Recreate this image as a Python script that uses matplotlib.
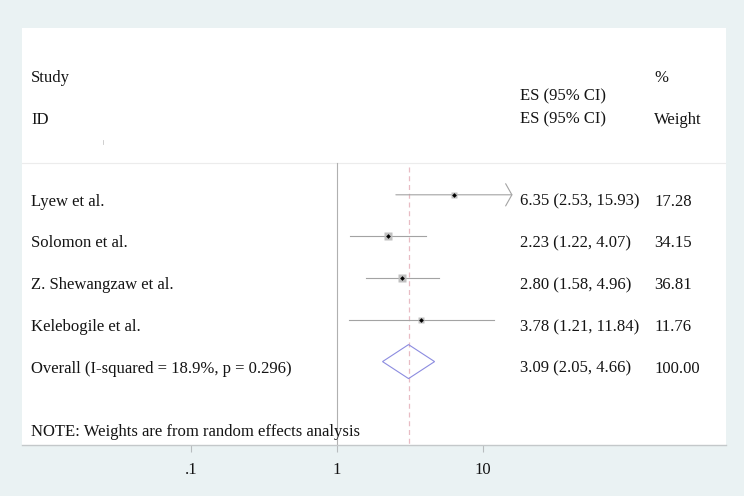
import matplotlib
matplotlib.use("Agg")
import matplotlib.pyplot as plt
import matplotlib.transforms as mtransforms
from matplotlib.patches import Polygon

# ---- data ----
studies = ["Lyew et al.", "Solomon et al.", "Z. Shewangzaw et al.", "Kelebogile et al."]
es = [6.35, 2.23, 2.80, 3.78]
ci_lo = [2.53, 1.22, 1.58, 1.21]
ci_hi = [15.93, 4.07, 4.96, 11.84]
weights = [17.28, 34.15, 36.81, 11.76]
overall_label = "Overall (I-squared = 18.9%, p = 0.296)"
overall_es = 3.09
overall_lo = 2.05
overall_hi = 4.66
overall_w = 100.00
xticks = [0.1, 1, 10]
xtick_labels = [".1", "1", "10"]
note = "NOTE: Weights are from random effects analysis"

# ---- style ----
plt.rcParams['font.family'] = ['Liberation Serif', 'DejaVu Serif']
FS = 12
TXT = '#141414'
BG = '#eaf2f3'

W, H = 744, 496
fig = plt.figure(figsize=(W / 100, H / 100), dpi=100, facecolor=BG)
# panel in pixels
pl, pr, pt, pb = 22, 726, 28, 445
ax = fig.add_axes([pl / W, (H - pb) / H, (pr - pl) / W, (pb - pt) / H])
ax.set_facecolor('white')
ax.set_xscale('log')
x1px, decade = 337, 146.0
ax.set_xlim(10 ** ((pl - x1px) / decade), 10 ** ((pr - x1px) / decade))
ax.set_ylim(6.0, -4.0)
rowpx = (pb - pt) / 10.0

def row_of(px):
    return (px - 195) / rowpx

for s in ['top', 'left', 'right']:
    ax.spines[s].set_visible(False)
ax.spines['bottom'].set_color('#c4c8ca')
ax.spines['bottom'].set_linewidth(1.0)
ax.set_yticks([])
ax.set_xticks(xticks)
ax.set_xticklabels(xtick_labels)
ax.minorticks_off()
ax.tick_params(axis='x', length=5, width=0.8, color='#b8bcbe', pad=7,
               labelsize=FS, labelcolor=TXT)

sep = row_of(163)
ax.axhline(sep, color='#ececec', lw=0.8, zorder=1)
ax.plot([1, 1], [sep, 6.0], color='#b0b0b0', lw=0.8, zorder=2)
ax.plot([overall_es, overall_es], [row_of(167), 6.0], color='#e8bcc4', lw=0.9,
        ls=(0, (4, 3)), zorder=2)

# small stray mark under the header
trf = mtransforms.blended_transform_factory(ax.transAxes, ax.transData)
ax.plot([(103 - pl) / (pr - pl)] * 2, [row_of(140), row_of(144)], color='#c8c8c8',
        lw=0.6, transform=trf)

ci_color = '#a3a3a3'
for i in range(len(studies)):
    if i == 0:
        ax.annotate('', xy=(ci_hi[i], i), xytext=(ci_lo[i], i),
                    arrowprops=dict(arrowstyle='->,head_length=0.45,head_width=0.8',
                                    color=ci_color, lw=0.8, mutation_scale=10,
                                    shrinkA=0, shrinkB=0), zorder=3)
    else:
        ax.plot([ci_lo[i], ci_hi[i]], [i, i], color=ci_color, lw=0.8, zorder=3)
    ax.plot(es[i], i, marker='s', ms=weights[i] ** 0.5 * 1.05, color='#c0c0c0',
            mec='none', zorder=4)
    ax.plot(es[i], i, marker='D', ms=2.4, color='black', mec='none', zorder=5)

k = len(studies)
h = 17 / rowpx
ax.add_patch(Polygon([(overall_lo, k), (overall_es, k - h), (overall_hi, k),
                      (overall_es, k + h)], closed=True, fill=False,
                     edgecolor='#8c8ce0', lw=0.8, zorder=4))

tr = trf
xs_left = (31 - pl) / (pr - pl)
xs_es = (520 - pl) / (pr - pl)
xs_w = (654 - pl) / (pr - pl)
off = 11 / rowpx

kw = dict(transform=tr, fontsize=FS, color=TXT, va='baseline', ha='left')
ax.text(xs_left, row_of(82), "Study", **kw)
ax.text(xs_w, row_of(82), "%", **kw)
ax.text(xs_es, row_of(101), "ES (95% CI)", **kw)
ax.text(xs_left, row_of(124), "ID", **kw)
ax.text(xs_es, row_of(124), "ES (95% CI)", **kw)
ax.text(xs_w, row_of(124), "Weight", **kw)

for i in range(len(studies)):
    ax.text(xs_left, i + off, studies[i], **kw)
    ax.text(xs_es, i + off, f"{es[i]:.2f} ({ci_lo[i]:.2f}, {ci_hi[i]:.2f})", **kw)
    ax.text(xs_w, i + off, f"{weights[i]:.2f}", **kw)
ax.text(xs_left, k + off, overall_label, **kw)
ax.text(xs_es, k + off, f"{overall_es:.2f} ({overall_lo:.2f}, {overall_hi:.2f})", **kw)
ax.text(xs_w, k + off, f"{overall_w:.2f}", **kw)
ax.text(xs_left, row_of(436), note, **kw)

fig.savefig("out.png", dpi=100, facecolor=BG)
